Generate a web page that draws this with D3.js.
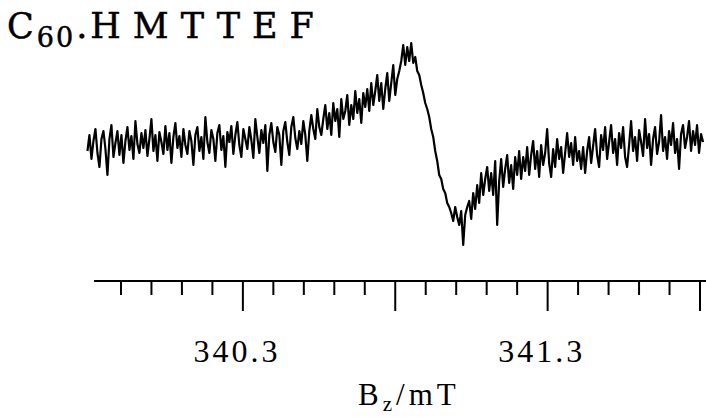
<!DOCTYPE html>
<html>
<head>
<meta charset="utf-8">
<script src="https://d3js.org/d3.v7.min.js"></script>
<style>
  body { margin: 0; padding: 0; background: #fff; }
  svg text { fill: #000; }
</style>
</head>
<body>
<div id="chart"></div>
<script>
// Spectrum sweep (mT) and signal (arbitrary units)
const fieldStart = 339.79;
const fieldEnd = 341.81;
const signal = [
  -6, 10, -14, 4, 16, -8, -22, 6, 14, -4,
  -30, 6, 20, -12, 2, 14, -10, 10, -18, 4,
  18, -5, 9, -14, 24, 1, -8, 12, -3, 15,
  -11, 6, 26, -6, 10, -16, 13, 3, -9, 19,
  -5, 12, -18, 8, 22, -3, 9, -12, 16, 0,
  -9, 14, 4, -20, 10, 18, -6, 8, -14, 28,
  3, -8, 15, 6, -16, 12, 20, -5, 9, -22,
  13, 3, 19, -9, 10, 23, 0, -12, 16, 6,
  -4, 18, 5, -13, 26, 8, -8, 15, 2, 20,
  -26, 10, 22, 3, -7, 18, 10, -20, 14, 23,
  3, -10, 18, 28, 7, -4, 14, 1, 24, 10,
  -16, 14, 30, 16, 6, 36, 18, 10, 26, 40,
  16, 32, 10, 42, 24, 36, 8, 46, 26, 34,
  50, 20, 40, 26, 54, 32, 46, 22, 52, 38,
  56, 34, 62, 40, 54, 70, 44, 62, 36, 56,
  72, 44, 62, 80, 50, 66, 74, 84, 100, 80,
  98, 84, 102, 82, 88, 74, 70, 60, 52, 42,
  36, 28, 16, 8, -6, -16, -30, -34, -44, -48,
  -58, -62, -68, -76, -62, -72, -80, -66, -100, -70,
  -62, -56, -74, -48, -64, -40, -58, -28, -50, -34,
  -22, -46, -28, -50, -16, -80, -36, -14, -42, -24,
  -10, -38, -20, -44, -12, -30, -6, -34, -12, -26,
  -2, -30, -10, 4, -24, -6, -32, 0, -20, -8,
  16, -18, -32, -4, -22, 6, -14, -2, -28, -8,
  12, -12, 2, -20, 8, -16, -6, -24, -2, -28,
  -6, 8, -18, -1, 16, -10, -22, 10, -5, 18,
  -14, 3, 20, -8, 6, -20, 12, -3, 18, -12,
  -22, 0, 24, -6, 8, -16, 15, 3, -11, 26,
  -3, 11, -20, 6, 18, -9, 3, 30, -6, 8,
  -14, 14, 0, 22, -8, 6, -24, 11, 20, -3,
  8, 24, -6, 14, 0, 20, -8, 11, 3
];
const minorTicks = [339.9, 340.0, 340.1, 340.2, 340.4, 340.5, 340.6, 340.7, 340.9,
  341.0, 341.1, 341.2, 341.4, 341.5, 341.6, 341.7];
const majorTicks = [340.3, 340.8, 341.3, 341.8];
const tickLabels = [340.3, 341.3];

const width = 706, height = 417;
const svg = d3.select("#chart").append("svg")
  .attr("width", width)
  .attr("height", height)
  .style("font-family", "'Liberation Serif', 'Times New Roman', serif");

const x = d3.scaleLinear().domain([339.8, 341.8]).range([90.5, 700]);
const y = d3.scaleLinear().domain([-100, 100]).range([245, 45]);

const step = (fieldEnd - fieldStart) / (signal.length - 1);
const points = signal.map((v, i) => [fieldStart + i * step, v]);

svg.append("path")
  .datum(points)
  .attr("fill", "none")
  .attr("stroke", "#000")
  .attr("stroke-width", 2.2)
  .attr("stroke-linejoin", "round")
  .attr("d", d3.line().x(d => x(d[0])).y(d => y(d[1])));

// Axis line with tick marks below
const axisY = 281;
svg.append("line")
  .attr("x1", 94).attr("x2", 706)
  .attr("y1", axisY).attr("y2", axisY)
  .attr("stroke", "#000").attr("stroke-width", 2);

svg.selectAll(".minor").data(minorTicks).enter().append("line")
  .attr("x1", d => x(d)).attr("x2", d => x(d))
  .attr("y1", axisY).attr("y2", axisY + 14)
  .attr("stroke", "#000").attr("stroke-width", 2);

svg.selectAll(".major").data(majorTicks).enter().append("line")
  .attr("x1", d => x(d)).attr("x2", d => x(d))
  .attr("y1", axisY).attr("y2", axisY + 30)
  .attr("stroke", "#000").attr("stroke-width", 2);

svg.selectAll(".tlabel").data(tickLabels).enter().append("text")
  .attr("x", d => x(d) - 6)
  .attr("y", 362)
  .attr("text-anchor", "middle")
  .style("font-size", "32px")
  .style("letter-spacing", "3px")
  .text(d => d.toFixed(1));

// Axis title B_z/mT
const xt = svg.append("text")
  .attr("x", 358).attr("y", 405)
  .style("font-size", "31px")
  .style("letter-spacing", "4px");
xt.append("tspan").text("B");
xt.append("tspan").attr("dy", 6).style("font-size", "21px").text("z");
xt.append("tspan").attr("dy", -6).text("/mT");

// Chart title
const title = svg.append("text")
  .attr("x", 7).attr("y", 38)
  .style("font-family", "'DejaVu Serif', serif")
  .style("font-size", "35px")
  .style("stroke", "#000")
  .style("stroke-width", 0.5);
title.append("tspan").text("C");
title.append("tspan").attr("dx", 3).attr("dy", 9).style("font-size", "27px")
  .style("letter-spacing", "2px").text("60");
title.append("tspan").attr("dx", 1).attr("dy", -9).text(".");
title.append("tspan").attr("dx", 3).style("letter-spacing", "12px").text("HMTTEF");
</script>
</body>
</html>
